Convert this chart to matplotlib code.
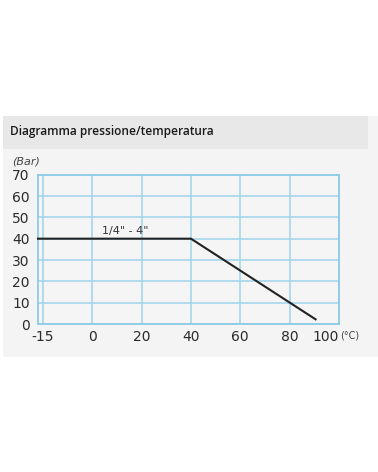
import matplotlib
matplotlib.use("Agg")
import matplotlib.pyplot as plt
from matplotlib.patches import Rectangle
import numpy as np

# Data
temps = [-16.5, 40, 90.5]          # °C
pressure = [40, 40, 2.2]           # bar
x_ticks = [-15, 0, 20, 40, 60, 80, 100]
x_tick_labels = ["-15", "0", "20", "40", "60", "80", "100"]
y_ticks = [0, 10, 20, 30, 40, 50, 60, 70]
series_label = '1/4" - 4"'
title = "Diagramma pressione/temperatura"

W, H = 378, 472
fig = plt.figure(figsize=(W / 100, H / 100), dpi=100)
fig.patch.set_facecolor("white")

# grey panel and header band
fig.patches.append(Rectangle((3 / W, 1 - 357 / H), 375 / W, (357 - 116) / H,
                             transform=fig.transFigure, facecolor="#f4f4f4",
                             edgecolor="none", zorder=-2))
fig.patches.append(Rectangle((3 / W, 1 - 149 / H), 365 / W, (149 - 116) / H,
                             transform=fig.transFigure, facecolor="#e8e8e8",
                             edgecolor="none", zorder=-1))
fig.text(10 / W, 1 - 132 / H, title, fontsize=8.6, family="Open Sans",
         fontweight="semibold", color="#1a1a1a", va="center", ha="left")

ax = fig.add_axes([38 / W, 1 - 324 / H, (339 - 38) / W, (324 - 174.7) / H])
ax.set_zorder(2)
ax.set_facecolor("#f5f5f5")


def fwd(x):
    x = np.asarray(x, dtype=float)
    return np.where(x < 0, x * 4 / 3, x)


def inv(x):
    x = np.asarray(x, dtype=float)
    return np.where(x < 0, x * 3 / 4, x)


ax.set_xscale("function", functions=(fwd, inv))
ax.set_xlim(-16.5, 100)
ax.set_ylim(0, 70)

grid_c = "#9fd4ec"
ax.set_xticks(x_ticks)
ax.set_xticklabels(x_tick_labels)
ax.set_yticks(y_ticks)
ax.grid(True, color=grid_c, linewidth=1.1)
for s in ax.spines.values():
    s.set_color("#8ccbe6")
    s.set_linewidth(1.3)
ax.tick_params(length=0, labelsize=10, colors="#2a2a2a")
ax.tick_params(axis="x", pad=4)
ax.tick_params(axis="y", pad=6)
ax.get_xticklabels()[-1].set_ha("right")

ax.plot(temps, pressure, color="#222222", linewidth=1.5, zorder=3, clip_on=False)
ax.text(13.5, 43.8, series_label, fontsize=8, color="#333333",
        ha="center", va="center")

fig.text(12 / W, 1 - 161 / H, "(Bar)", fontsize=8, style="italic",
         color="#444444", va="center", ha="left")
fig.text(340 / W, 1 - 335.5 / H, "(°C)", fontsize=7, color="#444444",
         va="center", ha="left")

fig.savefig("out.png", dpi=100, facecolor=fig.get_facecolor())
